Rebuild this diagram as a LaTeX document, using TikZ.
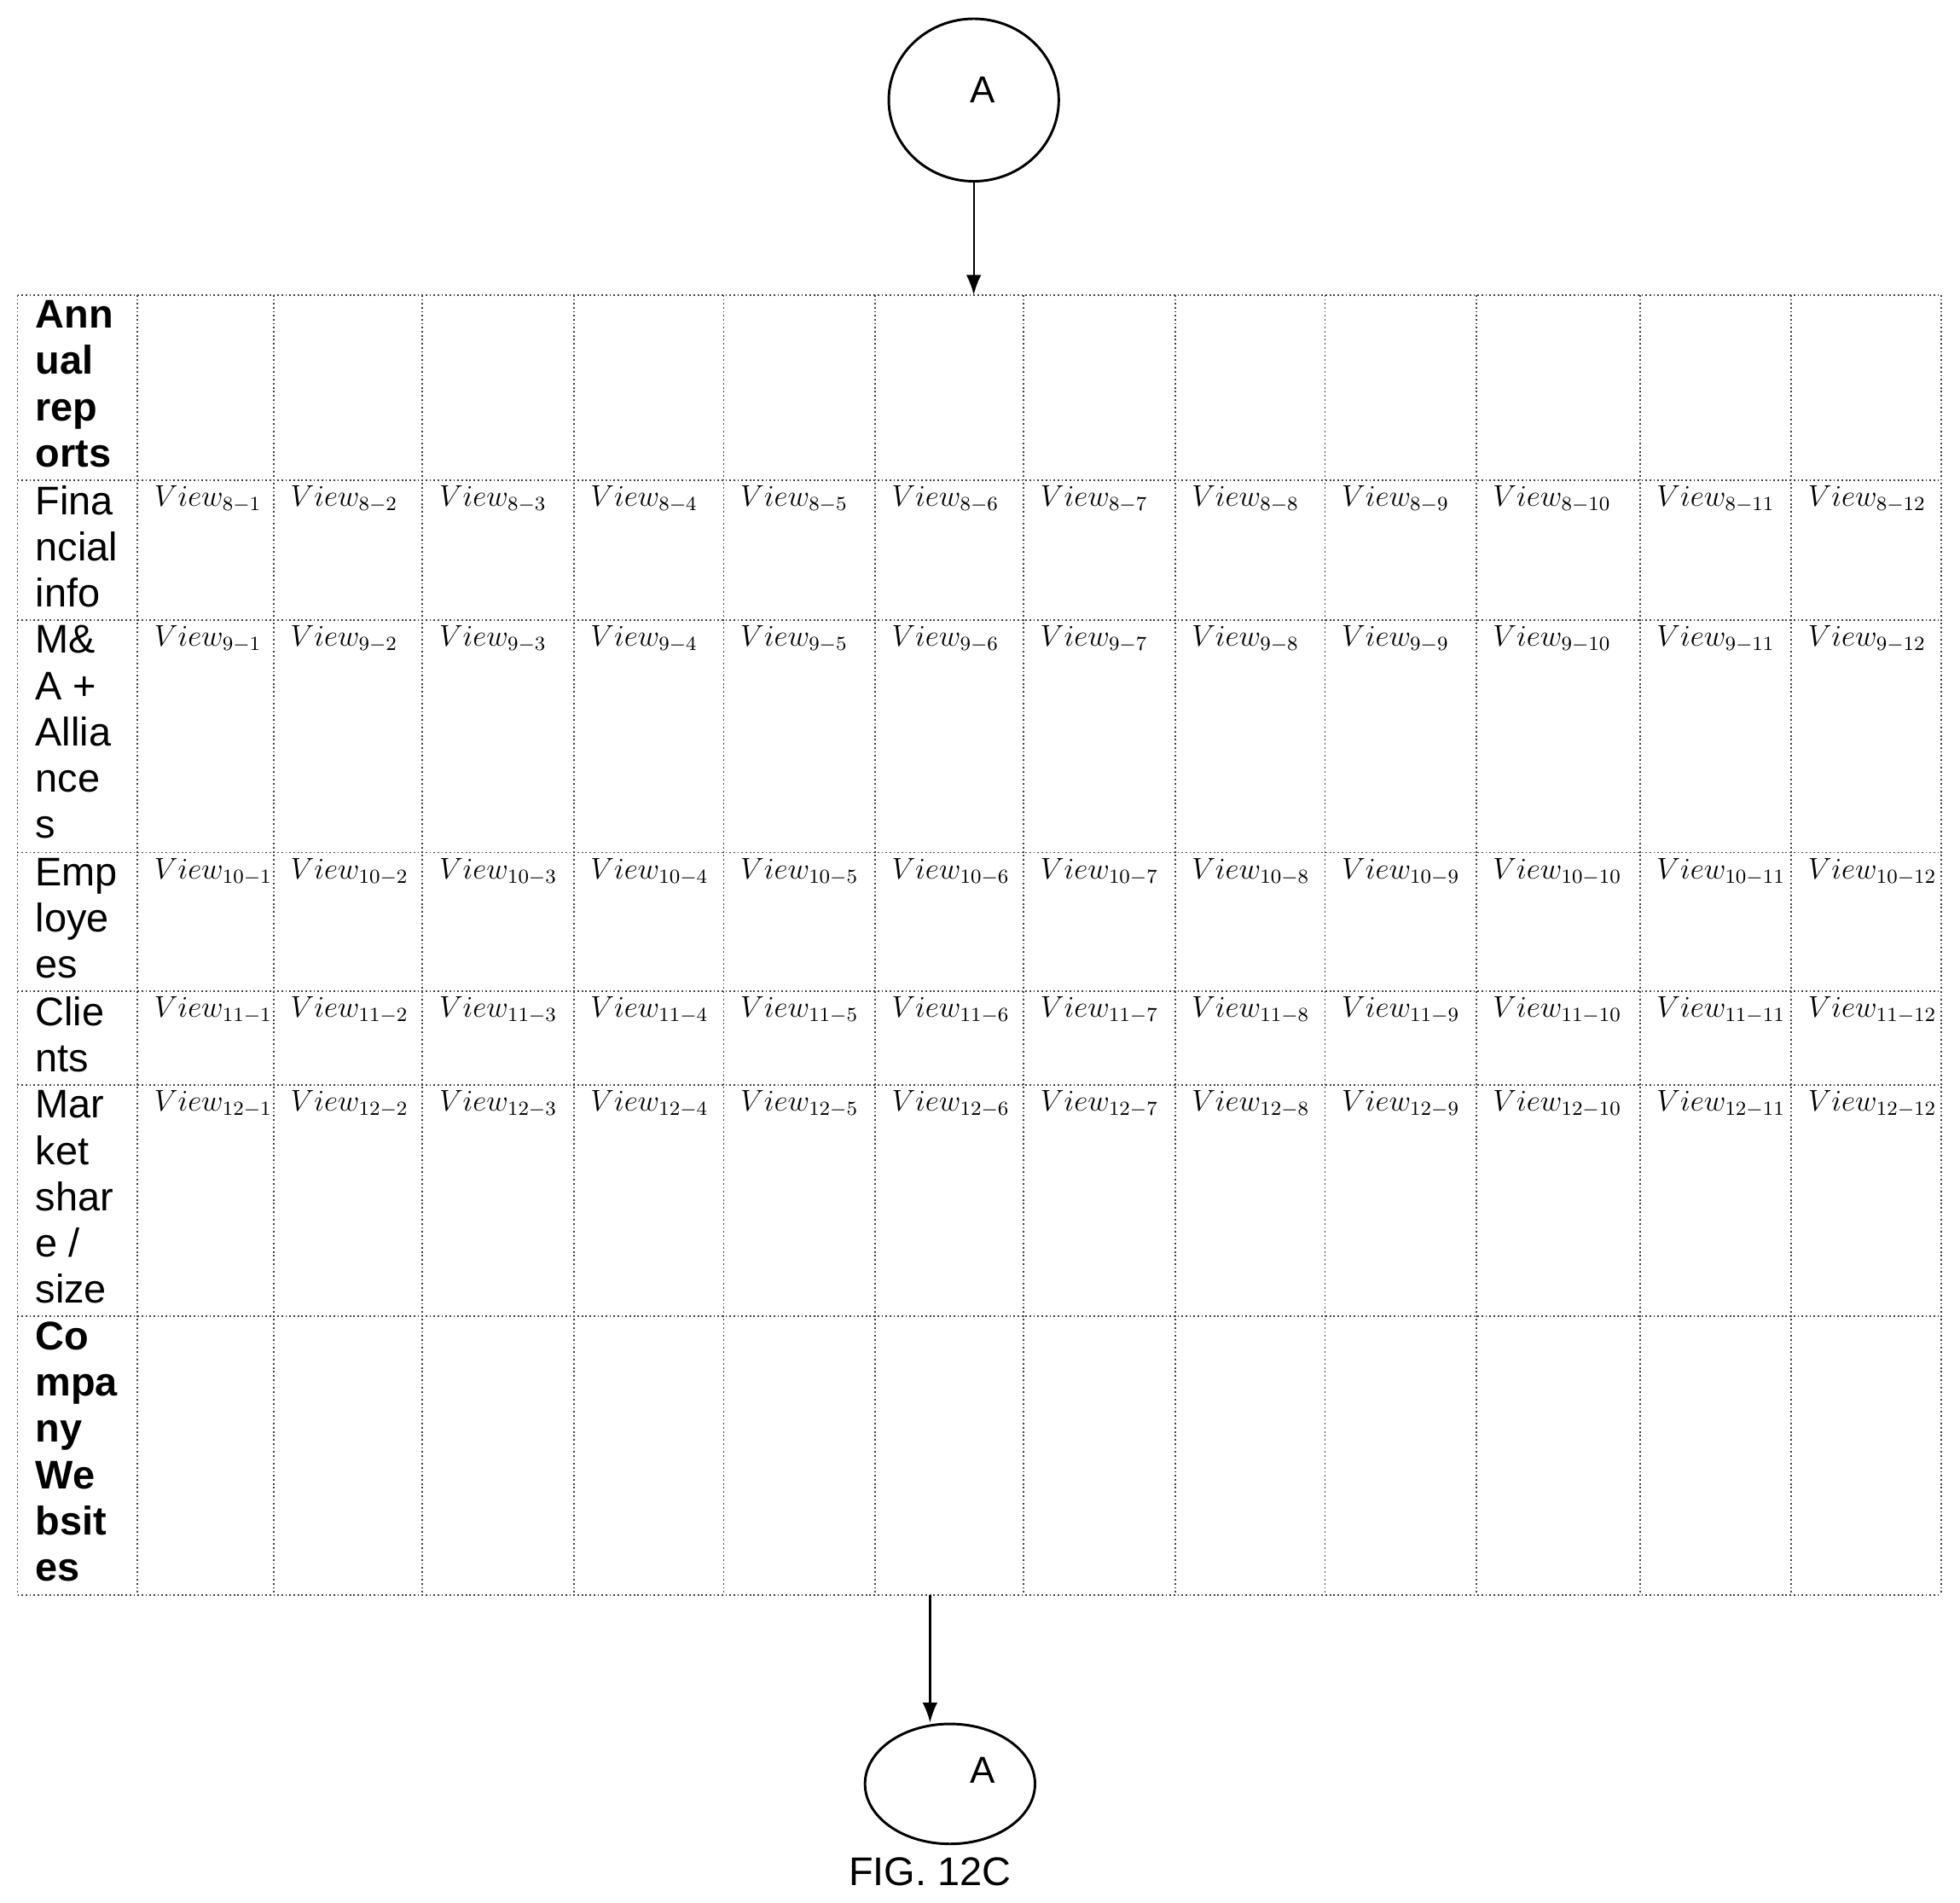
\documentclass[tikz,border=0pt]{standalone}
\usepackage{fontspec}
\setmainfont{Liberation Sans}
\usetikzlibrary{arrows.meta,shapes.geometric}
\begin{document}
\begin{tikzpicture}[x=0.5pt,y=-0.5pt,
  grid/.style={draw=black!75,line width=0.6pt,densely dotted},
  hdr/.style={anchor=north west,align=left,inner sep=0pt,font=\fontsize{16}{18.5}\selectfont},
  vw/.style={anchor=north west,inner sep=0pt,font=\fontsize{11.5}{13}\selectfont},
  conn/.style={-{Latex[length=8pt,width=6pt]},line width=0.8pt}]
\useasboundingbox (0,0) rectangle (1568,1522);
\node[draw,line width=1pt,ellipse,minimum width=68pt,minimum height=65pt,inner sep=0pt] (ta) at (779,80) {};
\node[font=\fontsize{15}{18}\selectfont] (tal) at (786,72) {A};
\coordinate (tt) at (779,236);
\draw[conn] (ta.south) -- (tt);
% grid
\foreach \y in {236,384,496,682,793,868,1053,1276} \draw[grid] (14,\y) -- (1553,\y);
\foreach \x in {14,110,219,338,459,579,700,819,940,1060,1181,1312,1433,1553} \draw[grid] (\x,236) -- (\x,1276);
% headers
\node[hdr,font=\bfseries\fontsize{16}{18.5}\selectfont] (h1) at (28,240) {Ann\\ual\\rep\\orts};
\node[hdr] (h2) at (28,388) {Fina\\ncial\\info};
\node[hdr] (h3) at (28,500) {M\&\\A +\\Allia\\nce\\s};
\node[hdr] (h4) at (28,686) {Emp\\loye\\es};
\node[hdr] (h5) at (28,797) {Clie\\nts};
\node[hdr] (h6) at (28,872) {Mar\\ket\\shar\\e /\\size};
\node[hdr,font=\bfseries\fontsize{16}{18.5}\selectfont] (h7) at (28,1057) {Co\\mpa\\ny\\We\\bsit\\es};
% views
\foreach \r/\y in {8/388,9/500,10/686,11/797,12/872}{
  \foreach \c/\x in {1/110,2/219,3/338,4/459,5/579,6/700,7/819,8/940,9/1060,10/1181,11/1312,12/1433}{
    \node[vw] (v\r-\c) at (\x+13,\y) {$View_{\r-\c}$};
  }
}
\coordinate (bs) at (744,1276);
\node[draw,line width=1pt,ellipse,minimum width=68pt,minimum height=48pt,inner sep=0pt] (ba) at (760,1427) {};
\node[font=\fontsize{15}{18}\selectfont] (bal) at (786,1416) {A};
\draw[conn] (bs) -- (744,1378);
\node[font=\fontsize{16}{18}\selectfont] (fig) at (744,1497) {FIG. 12C};
\end{tikzpicture}
\end{document}
